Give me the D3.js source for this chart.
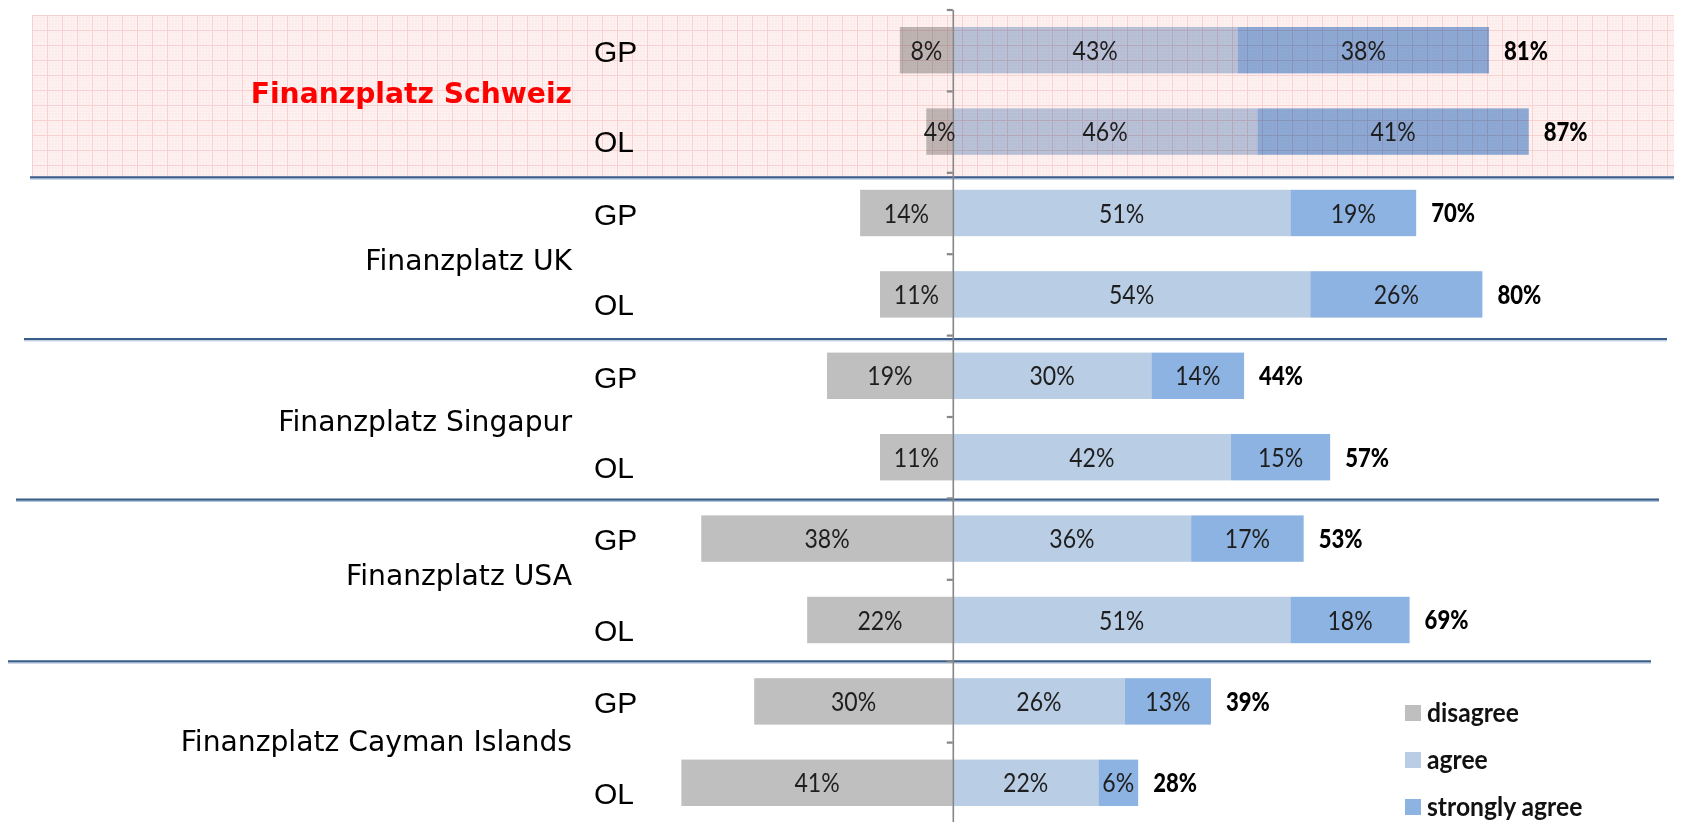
<!DOCTYPE html>
<html>
<head>
<meta charset="utf-8">
<script src="https://cdn.jsdelivr.net/npm/d3@7"></script>
<style>
  html, body { margin: 0; padding: 0; background: #ffffff; }
  svg { display: block; }
</style>
</head>
<body>
<svg id="chart" width="1690" height="822"></svg>
<script>
// ---------------- data ----------------
const categories = ["Finanzplatz Schweiz", "Finanzplatz UK", "Finanzplatz Singapur", "Finanzplatz USA", "Finanzplatz Cayman Islands"];
const groups = ["GP", "OL"];
const disagree = [8, 4, 14, 11, 19, 11, 38, 22, 30, 41];
const agree    = [43, 46, 51, 54, 30, 42, 36, 51, 26, 22];
const strongly = [38, 41, 19, 26, 14, 15, 17, 18, 13, 6];
const totals   = [81, 87, 70, 80, 44, 57, 53, 69, 39, 28];
const seriesNames = ["disagree", "agree", "strongly agree"];

// ---------------- layout ----------------
const axisX = 952.8;
const pxPerPct = 6.62;
const rowTop = 9.5, rowStep = 81.4;
const colors = { disagree: "#BFBFBF", agree: "#B9CDE5", strongly: "#8DB3E2" };
const catLabelNudge = [0, 4, 2, -6, -3];

const rows = [];
categories.forEach((c, ci) => groups.forEach((g, gi) => rows.push({ cat: c, ci, g, i: ci * 2 + gi })));

const svg = d3.select("#chart");

const x = d3.scaleLinear().domain([0, 100]).range([axisX, axisX + 100 * pxPerPct]);
const y = d3.scaleBand().domain(d3.range(rows.length))
  .range([rowTop, rowTop + rowStep * rows.length]).paddingInner(0.43).paddingOuter(0.215);
const yb = d3.scaleLinear().domain([0, rows.length]).range([rowTop, rowTop + rowStep * rows.length]);

// pattern for the highlighted (Schweiz) band
const defs = svg.append("defs");
const pat = defs.append("pattern").attr("id", "grid").attr("patternUnits", "userSpaceOnUse")
  .attr("x", 32).attr("y", 15).attr("width", 15).attr("height", 15);
pat.append("rect").attr("width", 15).attr("height", 15).attr("fill", "#fff3f3");
for (let k = 1; k < 5; k++) {
  pat.append("line").attr("x1", k * 3).attr("x2", k * 3).attr("y1", 0).attr("y2", 15).attr("stroke", "#fce4e4").attr("stroke-width", 0.6);
  pat.append("line").attr("y1", k * 3).attr("y2", k * 3).attr("x1", 0).attr("x2", 15).attr("stroke", "#fce4e4").attr("stroke-width", 0.6);
}
pat.append("line").attr("x1", 0.5).attr("x2", 0.5).attr("y1", 0).attr("y2", 15).attr("stroke", "#f8d0d0").attr("stroke-width", 1);
pat.append("line").attr("y1", 0.5).attr("y2", 0.5).attr("x1", 0).attr("x2", 15).attr("stroke", "#f8d0d0").attr("stroke-width", 1);

// bars
const barG = svg.append("g");
rows.forEach(r => {
  const i = r.i;
  const segs = [
    { x0: -disagree[i], x1: 0, c: colors.disagree, v: disagree[i] },
    { x0: 0, x1: agree[i], c: colors.agree, v: agree[i] },
    { x0: agree[i], x1: agree[i] + strongly[i], c: colors.strongly, v: strongly[i] }
  ];
  r.segs = segs;
  barG.selectAll(null).data(segs).enter().append("rect")
    .attr("x", d => x(d.x0)).attr("width", d => x(d.x1) - x(d.x0))
    .attr("y", y(i)).attr("height", y.bandwidth())
    .attr("fill", d => d.c);
});

// highlighted band overlay (multiply)
svg.append("rect").attr("x", 32).attr("y", 15).attr("width", 1674 - 32).attr("height", 177 - 15)
  .attr("fill", "url(#grid)").style("mix-blend-mode", "multiply");

// separator lines
const seps = [
  { y: 177.8, x1: 30, x2: 1674 },
  { y: 339.5, x1: 24, x2: 1667 },
  { y: 500.1, x1: 16, x2: 1659 },
  { y: 661.8, x1: 8, x2: 1651 }
];
seps.forEach(s => {
  svg.append("line").attr("x1", s.x1).attr("x2", s.x2).attr("y1", s.y - 0.5).attr("y2", s.y - 0.5)
    .attr("stroke", "#385d8a").attr("stroke-width", 2.2);
  svg.append("line").attr("x1", s.x1).attr("x2", s.x2).attr("y1", s.y + 1.3).attr("y2", s.y + 1.3)
    .attr("stroke", "#9fb6d2").attr("stroke-width", 0.9);
});

// vertical axis with ticks at row boundaries
const axisG = svg.append("g").attr("transform", `translate(${axisX},0)`)
  .call(d3.axisLeft(yb).tickValues(d3.range(0, rows.length + 1)).tickSize(6).tickSizeOuter(0).tickFormat(""));
axisG.select(".domain").attr("stroke", "#868686").attr("stroke-width", 1.6);
axisG.selectAll(".tick line").attr("stroke", "#868686").attr("stroke-width", 2.2);

// value labels inside segments
const labelFont = "Lato, 'Open Sans', sans-serif";
rows.forEach(r => {
  const cy = y(r.i) + y.bandwidth() / 2;
  r.segs.forEach(s => {
    const cx = (x(s.x0) + x(s.x1)) / 2;
    svg.append("text")
      .attr("transform", `translate(${cx},${cy}) scale(0.87,1)`)
      .attr("text-anchor", "middle").attr("dy", "0.36em")
      .style("font-family", labelFont).style("font-size", "26.5px").attr("fill", "#1e1e1e")
      .text(s.v + "%");
  });
  // totals
  const endX = x(agree[r.i] + strongly[r.i]);
  svg.append("text")
    .attr("transform", `translate(${endX + 15},${cy}) scale(0.85,1)`)
    .attr("dy", "0.36em")
    .style("font-family", labelFont).style("font-size", "26px").style("font-weight", "900").attr("fill", "#000")
    .text(totals[r.i] + "%");
  // GP / OL labels
  svg.append("text")
    .attr("x", 594).attr("y", cy + (r.g === "GP" ? 1 : 10)).attr("dy", "0.36em")
    .style("font-family", "'Liberation Sans', Arial, sans-serif").style("font-size", "30px").attr("fill", "#000")
    .text(r.g);
});

// category labels
categories.forEach((c, ci) => {
  const cy = (y(ci * 2) + y(ci * 2 + 1)) / 2 + y.bandwidth() / 2 + 2 + catLabelNudge[ci];
  svg.append("text")
    .attr("x", 572).attr("y", cy).attr("dy", "0.36em").attr("text-anchor", "end")
    .style("font-family", "'DejaVu Sans', Verdana, sans-serif").style("font-size", "28.2px")
    .style("font-weight", ci === 0 ? "bold" : "normal")
    .attr("fill", ci === 0 ? "#ff0000" : "#000")
    .text(c);
});

// legend
const legendColors = [colors.disagree, colors.agree, colors.strongly];
const leg = svg.append("g");
seriesNames.forEach((n, k) => {
  const ly = 705 + k * 47;
  leg.append("rect").attr("x", 1405).attr("y", ly).attr("width", 16).attr("height", 16).attr("fill", legendColors[k]);
  leg.append("text")
    .attr("transform", `translate(1427,${ly + 8}) scale(0.95,1)`).attr("dy", "0.36em")
    .style("font-family", labelFont).style("font-size", "26px").style("font-weight", "bold").attr("fill", "#111")
    .text(n);
});
</script>
</body>
</html>
